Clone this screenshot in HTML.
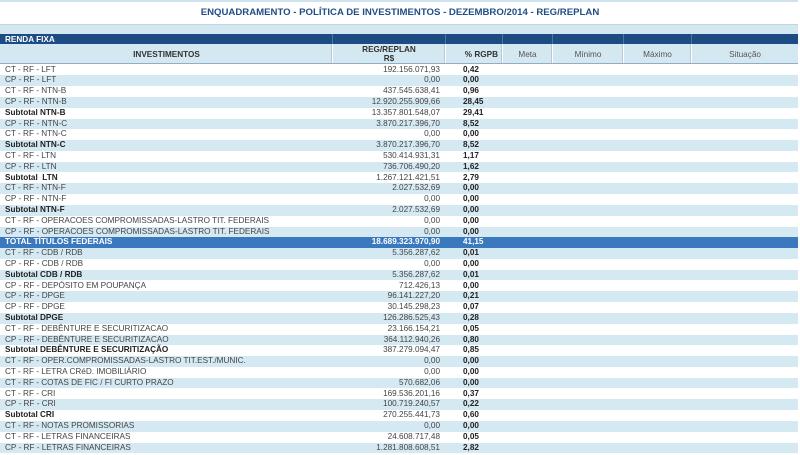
<!DOCTYPE html>
<html>
<head>
<meta charset="utf-8">
<style>
html,body{margin:0;padding:0;background:#fff;}
body{width:800px;height:455px;position:relative;overflow:hidden;font-family:"Liberation Sans",Arial,sans-serif;}
.abs{position:absolute;}
.topline{left:0;top:0;width:798px;height:2px;background:#cfe3ee;}
.title{left:0;top:6px;width:800px;text-align:center;font-size:9.6px;font-weight:bold;color:#1f4d85;line-height:14px;white-space:nowrap;}
.band1{left:0;top:24px;width:798px;height:10px;background:#d3e7f1;border-top:1px solid #bcd6e4;box-sizing:border-box;}
.band2{left:0;top:34px;width:798px;height:9.5px;background:#1d4b83;}
.band2 span{position:absolute;left:5px;top:0.5px;line-height:9.5px;font-size:8.2px;font-weight:bold;color:#fff;}
.vd{position:absolute;top:0;width:1px;height:9.5px;background:#4d73a0;}
.hdr{left:0;top:43.5px;width:798px;height:20.5px;background:#d4e8f2;border-bottom:1px solid #93adc4;box-sizing:border-box;}
.hv{position:absolute;top:0;width:1px;height:19.5px;background:#fff;border-left:1px solid #b4cad8;}
.ht{position:absolute;font-size:8.2px;color:#555;line-height:10px;text-align:center;white-space:nowrap;}
.ht.b{font-weight:bold;color:#333;}
.row{position:absolute;left:0;width:798px;height:10.8px;font-size:8.2px;line-height:10.8px;color:#444;white-space:nowrap;}
.row.l{background:#d5e9f3;}
.row.s{color:#222;font-weight:bold;}
.row.t{background:#3b79be;color:#fff;font-weight:bold;}
.row .n{position:absolute;left:5px;top:0;}
.row .v{position:absolute;right:358px;top:0;font-weight:normal;color:#444;}
.row.t .v{font-weight:bold;color:#fff;}
.row .p{position:absolute;left:463px;top:0;font-weight:bold;color:#222;}
.row.t .p{color:#fff;}
</style>
</head>
<body>
<div class="abs topline"></div>
<div class="abs title">ENQUADRAMENTO - POLÍTICA DE INVESTIMENTOS - DEZEMBRO/2014 - REG/REPLAN</div>
<div class="abs band1"></div>
<div class="abs band2"><span>RENDA FIXA</span>
<div class="vd" style="left:332px"></div>
<div class="vd" style="left:445px"></div>
<div class="vd" style="left:502px"></div>
<div class="vd" style="left:552px"></div>
<div class="vd" style="left:623px"></div>
<div class="vd" style="left:691px"></div>
</div>
<div class="abs hdr">
<div class="hv" style="left:331px"></div>
<div class="hv" style="left:444px"></div>
<div class="hv" style="left:501px"></div>
<div class="hv" style="left:551px"></div>
<div class="hv" style="left:622px"></div>
<div class="hv" style="left:690px"></div>
<div class="ht b" style="left:0;width:333px;top:6px;">INVESTIMENTOS</div>
<div class="ht b" style="left:333px;width:112px;top:1.5px;">REG/REPLAN</div>
<div class="ht b" style="left:333px;width:112px;top:10px;">R$</div>
<div class="ht b" style="left:446px;width:52px;top:6px;text-align:right;">% RGPB</div>
<div class="ht" style="left:503px;width:49px;top:6px;">Meta</div>
<div class="ht" style="left:553px;width:70px;top:6px;">Mínimo</div>
<div class="ht" style="left:624px;width:67px;top:6px;">Máximo</div>
<div class="ht" style="left:692px;width:106px;top:6px;">Situação</div>
</div>

<div class="row" style="top:64.5px"><span class="n">CT - RF - LFT</span><span class="v">192.156.071,93</span><span class="p">0,42</span></div>
<div class="row l" style="top:75.3px"><span class="n">CP - RF - LFT</span><span class="v">0,00</span><span class="p">0,00</span></div>
<div class="row" style="top:86.1px"><span class="n">CT - RF - NTN-B</span><span class="v">437.545.638,41</span><span class="p">0,96</span></div>
<div class="row l" style="top:96.9px"><span class="n">CP - RF - NTN-B</span><span class="v">12.920.255.909,66</span><span class="p">28,45</span></div>
<div class="row s" style="top:107.7px"><span class="n">Subtotal NTN-B</span><span class="v">13.357.801.548,07</span><span class="p">29,41</span></div>
<div class="row l" style="top:118.5px"><span class="n">CP - RF - NTN-C</span><span class="v">3.870.217.396,70</span><span class="p">8,52</span></div>
<div class="row" style="top:129.3px"><span class="n">CT - RF - NTN-C</span><span class="v">0,00</span><span class="p">0,00</span></div>
<div class="row l s" style="top:140.1px"><span class="n">Subtotal NTN-C</span><span class="v">3.870.217.396,70</span><span class="p">8,52</span></div>
<div class="row" style="top:150.9px"><span class="n">CT - RF - LTN</span><span class="v">530.414.931,31</span><span class="p">1,17</span></div>
<div class="row l" style="top:161.7px"><span class="n">CP - RF - LTN</span><span class="v">736.706.490,20</span><span class="p">1,62</span></div>
<div class="row s" style="top:172.5px"><span class="n">Subtotal&nbsp; LTN</span><span class="v">1.267.121.421,51</span><span class="p">2,79</span></div>
<div class="row l" style="top:183.3px"><span class="n">CT - RF - NTN-F</span><span class="v">2.027.532,69</span><span class="p">0,00</span></div>
<div class="row" style="top:194.1px"><span class="n">CP - RF - NTN-F</span><span class="v">0,00</span><span class="p">0,00</span></div>
<div class="row l s" style="top:204.9px"><span class="n">Subtotal NTN-F</span><span class="v">2.027.532,69</span><span class="p">0,00</span></div>
<div class="row" style="top:215.7px"><span class="n">CT - RF - OPERACOES COMPROMISSADAS-LASTRO TIT. FEDERAIS</span><span class="v">0,00</span><span class="p">0,00</span></div>
<div class="row l" style="top:226.5px"><span class="n">CP - RF - OPERACOES COMPROMISSADAS-LASTRO TIT. FEDERAIS</span><span class="v">0,00</span><span class="p">0,00</span></div>
<div class="row t" style="top:237.3px"><span class="n">TOTAL TÍTULOS FEDERAIS</span><span class="v">18.689.323.970,90</span><span class="p">41,15</span></div>
<div class="row l" style="top:248.1px"><span class="n">CT - RF - CDB / RDB</span><span class="v">5.356.287,62</span><span class="p">0,01</span></div>
<div class="row" style="top:258.9px"><span class="n">CP - RF - CDB / RDB</span><span class="v">0,00</span><span class="p">0,00</span></div>
<div class="row l s" style="top:269.7px"><span class="n">Subtotal CDB / RDB</span><span class="v">5.356.287,62</span><span class="p">0,01</span></div>
<div class="row" style="top:280.5px"><span class="n">CP - RF - DEPÓSITO EM POUPANÇA</span><span class="v">712.426,13</span><span class="p">0,00</span></div>
<div class="row l" style="top:291.3px"><span class="n">CP - RF - DPGE</span><span class="v">96.141.227,20</span><span class="p">0,21</span></div>
<div class="row" style="top:302.1px"><span class="n">CP - RF - DPGE</span><span class="v">30.145.298,23</span><span class="p">0,07</span></div>
<div class="row l s" style="top:312.9px"><span class="n">Subtotal DPGE</span><span class="v">126.286.525,43</span><span class="p">0,28</span></div>
<div class="row" style="top:323.7px"><span class="n">CT - RF - DEBÊNTURE E SECURITIZACAO</span><span class="v">23.166.154,21</span><span class="p">0,05</span></div>
<div class="row l" style="top:334.5px"><span class="n">CP - RF - DEBÊNTURE E SECURITIZACAO</span><span class="v">364.112.940,26</span><span class="p">0,80</span></div>
<div class="row s" style="top:345.3px"><span class="n">Subtotal DEBÊNTURE E SECURITIZAÇÃO</span><span class="v">387.279.094,47</span><span class="p">0,85</span></div>
<div class="row l" style="top:356.1px"><span class="n">CT - RF - OPER.COMPROMISSADAS-LASTRO TIT.EST./MUNIC.</span><span class="v">0,00</span><span class="p">0,00</span></div>
<div class="row" style="top:366.9px"><span class="n">CT - RF - LETRA CRéD. IMOBILIÁRIO</span><span class="v">0,00</span><span class="p">0,00</span></div>
<div class="row l" style="top:377.7px"><span class="n">CT - RF - COTAS DE FIC / FI CURTO PRAZO</span><span class="v">570.682,06</span><span class="p">0,00</span></div>
<div class="row" style="top:388.5px"><span class="n">CT - RF - CRI</span><span class="v">169.536.201,16</span><span class="p">0,37</span></div>
<div class="row l" style="top:399.3px"><span class="n">CP - RF - CRI</span><span class="v">100.719.240,57</span><span class="p">0,22</span></div>
<div class="row s" style="top:410.1px"><span class="n">Subtotal CRI</span><span class="v">270.255.441,73</span><span class="p">0,60</span></div>
<div class="row l" style="top:420.9px"><span class="n">CT - RF - NOTAS PROMISSORIAS</span><span class="v">0,00</span><span class="p">0,00</span></div>
<div class="row" style="top:431.7px"><span class="n">CT - RF - LETRAS FINANCEIRAS</span><span class="v">24.608.717,48</span><span class="p">0,05</span></div>
<div class="row l" style="top:442.5px"><span class="n">CP - RF - LETRAS FINANCEIRAS</span><span class="v">1.281.808.608,51</span><span class="p">2,82</span></div>
</body>
</html>
